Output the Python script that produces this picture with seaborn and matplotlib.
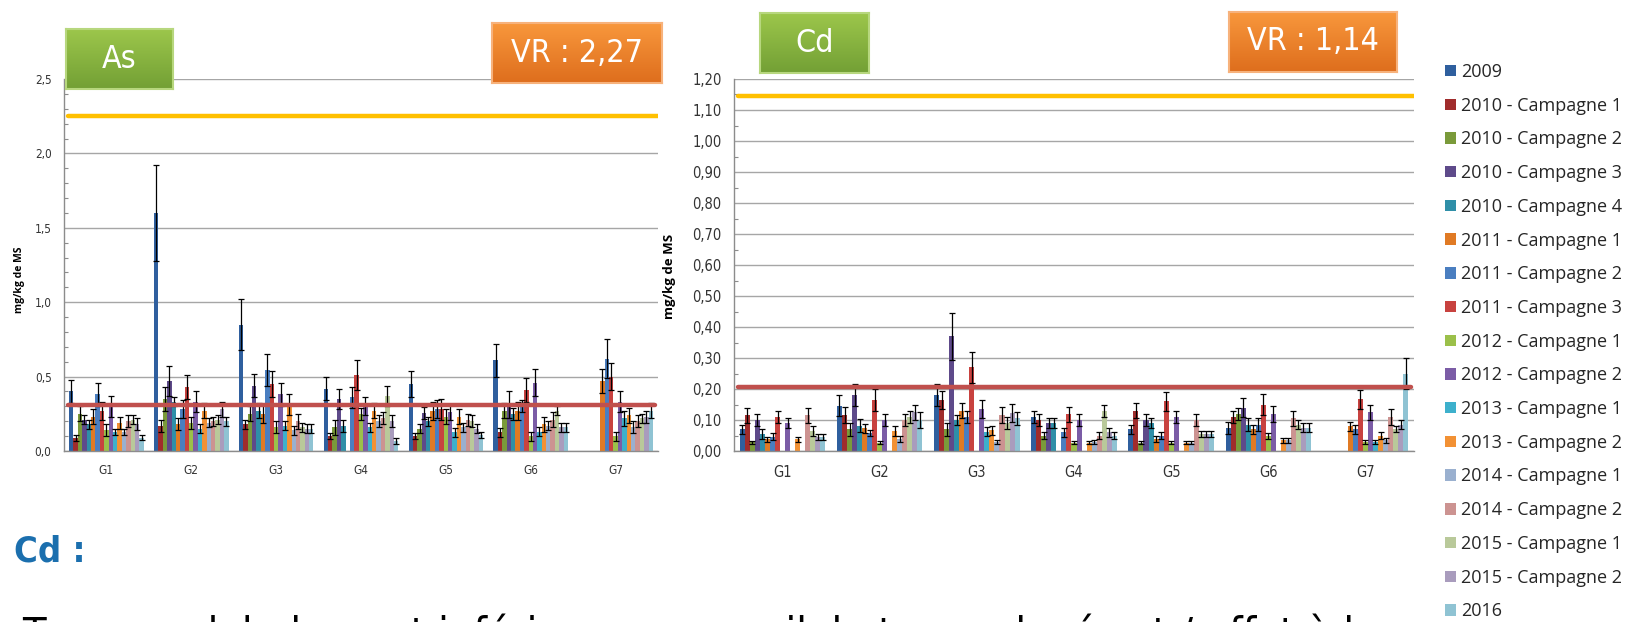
import numpy as np
import pandas as pd
import matplotlib
matplotlib.use("Agg")
import matplotlib.pyplot as plt
from matplotlib.colors import LinearSegmentedColormap
from matplotlib.patches import Patch
from matplotlib.ticker import FuncFormatter, MultipleLocator
import seaborn as sns

nan = np.nan

groups = ["G1", "G2", "G3", "G4", "G5", "G6", "G7"]
series = ["2009", "2010 - Campagne 1", "2010 - Campagne 2", "2010 - Campagne 3",
          "2010 - Campagne 4", "2011 - Campagne 1", "2011 - Campagne 2", "2011 - Campagne 3",
          "2012 - Campagne 1", "2012 - Campagne 2", "2013 - Campagne 1", "2013 - Campagne 2",
          "2014 - Campagne 1", "2014 - Campagne 2", "2015 - Campagne 1", "2015 - Campagne 2",
          "2016"]
colors = ["#2F5F9E", "#A02C2C", "#7A9A3A", "#5E4A8A", "#2F8FA8", "#E07A24",
          "#4A7EC0", "#C8423F", "#9BC04A", "#7B5CA6", "#3DB0CC", "#F29134",
          "#9AB0CF", "#CC9391", "#B9C99A", "#A99CBD", "#8FC3D3"]

# Arsenic (As) - valeurs moyennes et écarts, par groupe
as_g1 = [0.40, 0.09, 0.25, 0.21, 0.18, 0.23, 0.38, 0.27, 0.14, 0.30, 0.125, 0.19, 0.125, 0.20, 0.21, 0.18, 0.09]
as_g2 = [1.60, 0.17, 0.35, 0.47, 0.33, 0.18, 0.28, 0.43, 0.19, 0.33, 0.15, 0.27, 0.19, 0.20, 0.21, 0.28, 0.20]
as_g3 = [0.85, 0.18, 0.25, 0.44, 0.27, 0.25, 0.545, 0.45, 0.16, 0.38, 0.17, 0.31, 0.14, 0.20, 0.16, 0.15, 0.15]
as_g4 = [0.42, 0.10, 0.16, 0.35, 0.17, nan, 0.36, 0.51, 0.25, 0.30, 0.16, 0.27, 0.20, 0.22, 0.37, 0.20, 0.07]
as_g5 = [0.45, 0.10, 0.15, 0.255, 0.20, 0.27, 0.28, 0.28, 0.23, 0.26, 0.125, 0.23, 0.16, 0.21, 0.20, 0.15, 0.11]
as_g6 = [0.61, 0.125, 0.27, 0.31, 0.25, 0.27, 0.30, 0.41, 0.10, 0.46, 0.13, 0.18, 0.17, 0.21, 0.27, 0.16, 0.16]
as_g7 = [nan, nan, nan, nan, nan, 0.47, 0.62, 0.50, 0.10, 0.33, 0.22, 0.24, 0.16, 0.20, 0.22, 0.23, 0.27]

as_err_g1 = [0.08, 0.02, 0.05, 0.03, 0.03, 0.05, 0.08, 0.06, 0.04, 0.07, 0.02, 0.04, 0.02, 0.04, 0.03, 0.04, 0.015]
as_err_g2 = [0.32, 0.04, 0.08, 0.10, 0.03, 0.04, 0.06, 0.08, 0.04, 0.07, 0.03, 0.05, 0.03, 0.03, 0.03, 0.05, 0.03]
as_err_g3 = [0.17, 0.03, 0.05, 0.08, 0.05, 0.06, 0.11, 0.09, 0.04, 0.08, 0.03, 0.07, 0.03, 0.05, 0.03, 0.03, 0.03]
as_err_g4 = [0.08, 0.02, 0.05, 0.07, 0.04, nan, 0.07, 0.10, 0.04, 0.06, 0.03, 0.05, 0.04, 0.04, 0.07, 0.04, 0.02]
as_err_g5 = [0.09, 0.02, 0.03, 0.04, 0.03, 0.06, 0.06, 0.07, 0.05, 0.05, 0.03, 0.05, 0.03, 0.04, 0.04, 0.03, 0.02]
as_err_g6 = [0.11, 0.03, 0.05, 0.09, 0.04, 0.06, 0.04, 0.08, 0.03, 0.09, 0.03, 0.05, 0.03, 0.05, 0.03, 0.03, 0.03]
as_err_g7 = [nan, nan, nan, nan, nan, 0.08, 0.13, 0.09, 0.03, 0.07, 0.05, 0.05, 0.04, 0.04, 0.03, 0.04, 0.05]

# Cadmium (Cd)
cd_g1 = [0.07, 0.115, 0.028, 0.10, 0.055, 0.038, 0.046, 0.11, nan, 0.09, nan, 0.038, nan, 0.115, 0.065, 0.045, 0.045]
cd_g2 = [0.146, 0.116, 0.07, 0.18, 0.082, 0.073, 0.057, 0.165, 0.027, 0.10, nan, 0.065, 0.04, 0.10, 0.11, 0.125, 0.10]
cd_g3 = [0.18, 0.165, 0.07, 0.37, 0.10, 0.13, 0.11, 0.27, nan, 0.135, 0.062, 0.067, 0.028, 0.116, 0.09, 0.122, 0.105]
cd_g4 = [0.11, 0.10, 0.05, 0.09, 0.09, nan, 0.06, 0.118, 0.027, 0.10, nan, 0.027, 0.03, 0.05, 0.13, 0.06, 0.05]
cd_g5 = [0.07, 0.13, 0.027, 0.10, 0.09, 0.04, 0.05, 0.16, 0.027, 0.11, nan, 0.027, 0.027, 0.10, 0.055, 0.055, 0.055]
cd_g6 = [0.075, 0.11, 0.12, 0.14, 0.085, 0.07, 0.085, 0.15, 0.048, 0.12, nan, 0.035, 0.035, 0.105, 0.085, 0.075, 0.075]
cd_g7 = [nan, nan, nan, nan, nan, 0.08, 0.07, 0.167, 0.03, 0.125, 0.03, 0.05, 0.035, 0.11, 0.07, 0.085, 0.25]

cd_err_g1 = [0.015, 0.025, 0.005, 0.02, 0.015, 0.008, 0.012, 0.02, nan, 0.015, nan, 0.008, nan, 0.025, 0.015, 0.01, 0.01]
cd_err_g2 = [0.034, 0.025, 0.02, 0.035, 0.02, 0.015, 0.01, 0.035, 0.005, 0.02, nan, 0.015, 0.01, 0.02, 0.02, 0.025, 0.025]
cd_err_g3 = [0.035, 0.03, 0.02, 0.075, 0.015, 0.025, 0.02, 0.05, nan, 0.03, 0.015, 0.015, 0.006, 0.025, 0.02, 0.03, 0.02]
cd_err_g4 = [0.02, 0.02, 0.01, 0.015, 0.015, nan, 0.015, 0.025, 0.005, 0.02, nan, 0.005, 0.006, 0.01, 0.02, 0.015, 0.01]
cd_err_g5 = [0.015, 0.025, 0.005, 0.02, 0.015, 0.01, 0.01, 0.03, 0.005, 0.02, nan, 0.005, 0.005, 0.02, 0.01, 0.01, 0.01]
cd_err_g6 = [0.02, 0.02, 0.02, 0.03, 0.02, 0.015, 0.02, 0.035, 0.01, 0.025, nan, 0.008, 0.008, 0.025, 0.015, 0.015, 0.015]
cd_err_g7 = [nan, nan, nan, nan, nan, 0.015, 0.015, 0.03, 0.006, 0.025, 0.006, 0.01, 0.008, 0.025, 0.01, 0.015, 0.05]

# reference lines (VR = yellow, seuil = red)
as_vr, as_seuil = 2.25, 0.31
cd_vr, cd_seuil = 1.145, 0.205


def long_table(vals, errs):
    rows = []
    for g, v_list, e_list in zip(groups, vals, errs):
        for s, v, e in zip(series, v_list, e_list):
            rows.append({"groupe": g, "serie": s, "valeur": v, "erreur": e})
    return pd.DataFrame(rows)


df_as = long_table([as_g1, as_g2, as_g3, as_g4, as_g5, as_g6, as_g7],
                   [as_err_g1, as_err_g2, as_err_g3, as_err_g4, as_err_g5, as_err_g6, as_err_g7])
df_cd = long_table([cd_g1, cd_g2, cd_g3, cd_g4, cd_g5, cd_g6, cd_g7],
                   [cd_err_g1, cd_err_g2, cd_err_g3, cd_err_g4, cd_err_g5, cd_err_g6, cd_err_g7])

sns.set_style("white")
plt.rcParams["font.family"] = ["Open Sans", "DejaVu Sans"]
narrow = dict(family="DejaVu Sans", stretch="condensed")

W, H = 1632, 622
fig = plt.figure(figsize=(W / 100, H / 100), dpi=100)
fig.patch.set_facecolor("white")


def draw_panel(ax, df, ymax, step, minor, fmt, vr, seuil, tick_fs, ylab_fs, ylab_x, ylab_y, xpad):
    sns.barplot(data=df, x="groupe", y="valeur", hue="serie", order=groups, hue_order=series,
                palette=colors, width=0.88, saturation=1, errorbar=None, legend=False,
                linewidth=0, ax=ax)
    err = df.set_index(["groupe", "serie"])["erreur"]
    for serie, cont in zip(series, ax.containers):
        for bar in cont:
            h = bar.get_height()
            if np.isnan(h):
                continue
            xc = bar.get_x() + bar.get_width() / 2
            g = groups[int(round(xc))]
            ax.errorbar(xc, h, yerr=err[(g, serie)], fmt="none", ecolor="black",
                        elinewidth=0.9, capsize=2.2, capthick=0.9, zorder=4)
    ax.axhline(vr, xmin=0.006, xmax=1, color="#FFC000", lw=3.2, zorder=5)
    ax.axhline(seuil, xmin=0.006, xmax=0.995, color="#C0504D", lw=3.2, zorder=5)

    ax.set_xlim(-0.5, len(groups) - 0.5)
    ax.set_ylim(0, ymax)
    ax.yaxis.set_major_locator(MultipleLocator(step))
    ax.yaxis.set_minor_locator(MultipleLocator(minor))
    ax.yaxis.set_major_formatter(FuncFormatter(lambda v, p: fmt.format(v).replace(".", ",")))
    ax.set_xticks(range(len(groups)))
    ax.set_xticks(np.arange(-0.5, len(groups)), minor=True)
    ax.tick_params(axis="x", which="major", length=0, pad=xpad, labelsize=tick_fs, colors="#333333")
    ax.tick_params(axis="x", which="minor", length=5, width=1, color="#8c8c8c", direction="out")
    ax.tick_params(axis="y", which="major", length=4, width=1, color="#8c8c8c", direction="out",
                   labelsize=tick_fs, colors="#333333", pad=5)
    ax.tick_params(axis="y", which="minor", length=3, width=0.8, color="#8c8c8c", direction="in", left=True)
    for lab in ax.get_xticklabels() + ax.get_yticklabels():
        lab.set_family(narrow["family"])
        lab.set_stretch(narrow["stretch"])
    ax.yaxis.grid(True, which="major", color="#a6a6a6", lw=1)
    ax.xaxis.grid(False)
    ax.set_axisbelow(True)
    for side in ["top", "right"]:
        ax.spines[side].set_visible(False)
    for side in ["left", "bottom"]:
        ax.spines[side].set_color("#8c8c8c")
        ax.spines[side].set_linewidth(1)
    ax.set_xlabel("")
    ax.set_ylabel("mg/kg de MS", fontsize=ylab_fs, fontweight="bold", color="black")
    ax.yaxis.set_label_coords(ylab_x, ylab_y)


ax_as = fig.add_axes([64 / W, 1 - 451 / H, (658 - 64) / W, (451 - 79) / H])
draw_panel(ax_as, df_as, 2.5, 0.5, 0.1, "{:.1f}", as_vr, as_seuil, 8.5, 7.5, -0.066, 0.46, 9)

ax_cd = fig.add_axes([734 / W, 1 - 451 / H, (1414 - 734) / W, (451 - 79) / H])
draw_panel(ax_cd, df_cd, 1.2, 0.1, 0.05, "{:.2f}", cd_vr, cd_seuil, 10.5, 9.5, -0.085, 0.47, 10)


def label_box(x0, y0, x1, y1, text, top, bottom, edge, fs):
    bax = fig.add_axes([x0 / W, 1 - y1 / H, (x1 - x0) / W, (y1 - y0) / H])
    cmap = LinearSegmentedColormap.from_list("grad", [top, bottom])
    bax.imshow(np.linspace(0, 1, 64).reshape(-1, 1), cmap=cmap, aspect="auto", extent=(0, 1, 0, 1))
    bax.set_xticks([])
    bax.set_yticks([])
    for sp in bax.spines.values():
        sp.set_color(edge)
        sp.set_linewidth(1.5)
    bax.text(0.5, 0.5, text, ha="center", va="center", color="white", fontsize=fs,
             transform=bax.transAxes, **narrow)


green = ("#9CC64B", "#73A035", "#B7D77E")
orange = ("#F8973C", "#DE6E1D", "#F7B27C")
label_box(66, 29, 173, 89, "As", *green, 23)
label_box(492, 23, 662, 83, "VR : 2,27", *orange, 23)
label_box(760, 13, 869, 73, "Cd", *green, 23)
label_box(1229, 12, 1397, 72, "VR : 1,14", *orange, 23)

handles = [Patch(facecolor=c, edgecolor="none") for c in colors]
fig.legend(handles, series, loc="upper left", bbox_to_anchor=(1445 / W, 1 - 63 / H),
           frameon=False, fontsize=13, handlelength=0.6, handleheight=0.6,
           handletextpad=0.3, labelspacing=0.87, borderpad=0, borderaxespad=0,
           labelcolor="#262626")

fig.text(14 / W, 1 - 551 / H, "Cd :", fontsize=26, fontweight="bold", color="#1B6FAE",
         va="center", ha="left", **narrow)
fig.text(22 / W, 1 - 648 / H,
         "Teneurs globalement inférieures au seuil, le taux relevé est / effet à la",
         fontsize=31, color="black", va="baseline", ha="left", **narrow)

fig.savefig("out.png", dpi=100)
